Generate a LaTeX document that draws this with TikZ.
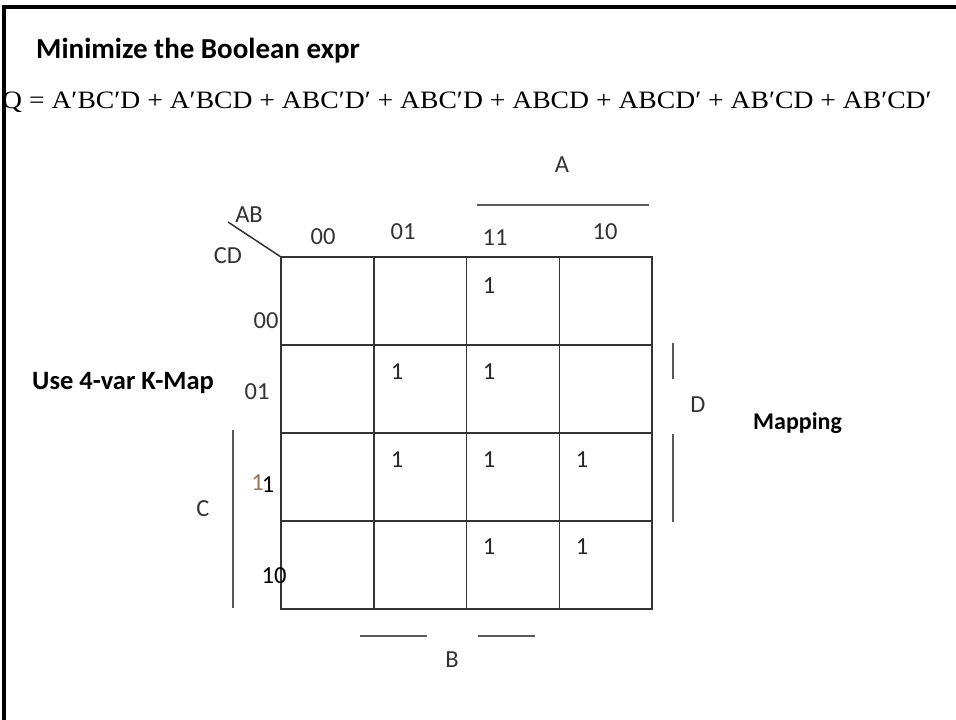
\documentclass[tikz,border=0pt]{standalone}
\usepackage{fontspec}
\setmainfont{Carlito}
\newfontfamily\eqfont{Liberation Serif}
\begin{document}
\begin{tikzpicture}[x=1pt,y=-1pt,
  frame/.style={line width=3.3pt,draw=black},
  gridline/.style={line width=1.5pt,draw=black!80},
  bar/.style={line width=1.4pt,draw=black!65},
  heading/.style={anchor=base west,inner sep=0pt},
  lbl/.style={font=\fontsize{24.5}{29}\selectfont,text=black!80,inner sep=0pt},
  one/.style={font=\fontsize{24.5}{29}\selectfont,text=black!85,inner sep=0pt}]
\useasboundingbox (0,0) rectangle (956,720);

% slide frame: top and left edges only
\draw[frame] (4,720) -- (4,7) -- (956,7);

% headings
\node[heading,font=\fontsize{29}{34}\selectfont\bfseries] (title) at (36,58) {Minimize the Boolean expr};
\node[heading,font=\fontsize{26.5}{31}\selectfont\bfseries] (usemap) at (32,389) {Use 4-var K-Map};
\node[heading,font=\fontsize{24}{28}\selectfont\bfseries] (mapping) at (753,429) {Mapping};

% the expression
\node[anchor=base west,inner sep=0pt,font=\eqfont\fontsize{25}{30}\selectfont] (expr) at (2,108)
  {\scalebox{1.105}[1]{Q = A′BC′D + A′BCD + ABC′D′ + ABC′D + ABCD + ABCD′ + AB′CD + AB′CD′}};

% Karnaugh map grid
\coordinate (nw) at (281,257);
\coordinate (se) at (652,609);
\draw[gridline] (nw) rectangle (se);
\foreach \i in {1,2,3}{
  \draw[gridline] (281+92.75*\i,257) -- (281+92.75*\i,609);
  \draw[gridline] (281,257+88*\i) -- (652,257+88*\i);
}

% corner heading
\coordinate (diag) at (228,222);
\draw[gridline] (diag) -- (nw);
\node[lbl] (ab) at (249,215) {AB};
\node[lbl] (cd) at (228,256) {CD};

% column labels
\node[lbl] (c00) at (323,237) {00};
\node[lbl] (c01) at (403,232) {01};
\node[lbl] (c11) at (495,238) {11};
\node[lbl] (c10) at (605,232) {10};

% row labels
\node[lbl] (r00) at (266,321) {00};
\node[lbl] (r01) at (257,392) {01};
\node[lbl,text=brown!60!black!75] (r11a) at (257.5,482.5) {1};
\node[one,text=black] (r11b) at (268,485) {1};
\node[lbl,text=black] (r10) at (274,576) {10};

% variable bars and letters
\coordinate (aL) at (477,205); \coordinate (aR) at (649,205);
\draw[bar] (aL) -- (aR);
\node[lbl] (la) at (562,165) {A};

\coordinate (b1L) at (360,636); \coordinate (b1R) at (427,636);
\coordinate (b2L) at (478,636); \coordinate (b2R) at (535,636);
\draw[bar] (b1L) -- (b1R);
\draw[bar] (b2L) -- (b2R);
\node[lbl] (lb) at (452,660) {B};

\coordinate (cT) at (233,430); \coordinate (cB) at (233,608);
\draw[bar] (cT) -- (cB);
\node[lbl] (lc) at (203,509) {C};

\coordinate (d1T) at (673,343); \coordinate (d1B) at (673,379);
\coordinate (d2T) at (673,434); \coordinate (d2B) at (673,522);
\draw[bar] (d1T) -- (d1B);
\draw[bar] (d2T) -- (d2B);
\node[lbl] (ld) at (698,405) {D};

% minterm entries
\node[one] (m1) at (489,286) {1};
\node[one] (m2) at (397,372) {1};
\node[one] (m3) at (489,372) {1};
\node[one] (m4) at (397,460) {1};
\node[one] (m5) at (489,460) {1};
\node[one] (m6) at (582,460) {1};
\node[one] (m7) at (489,547) {1};
\node[one] (m8) at (582,547) {1};
\end{tikzpicture}
\end{document}
